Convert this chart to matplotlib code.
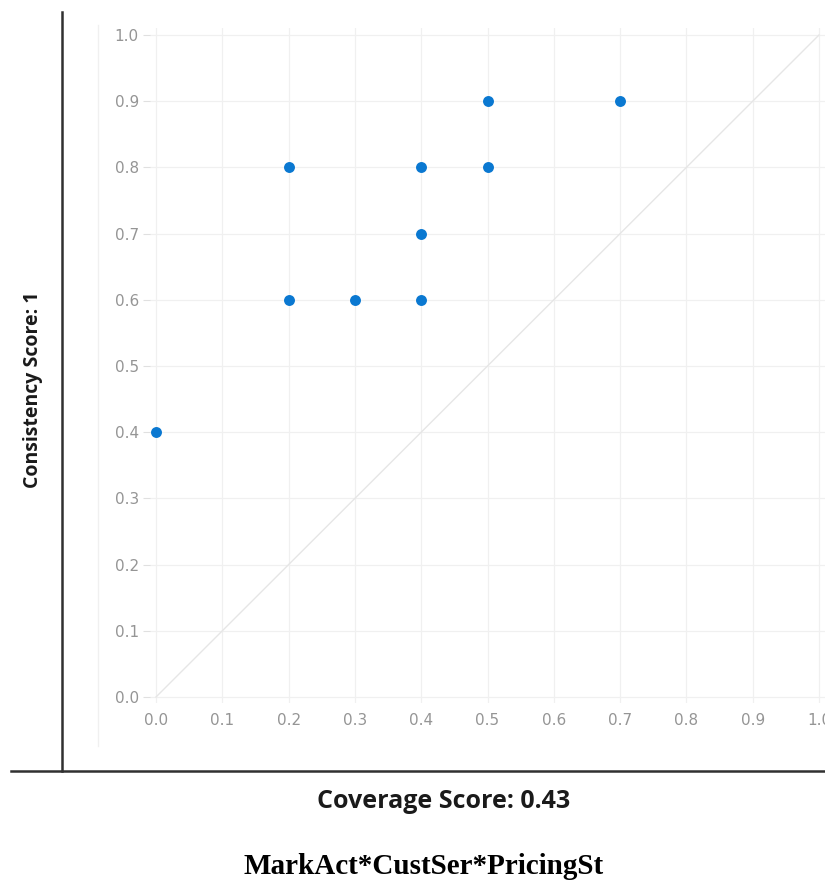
import matplotlib
matplotlib.use("Agg")
import matplotlib.pyplot as plt
from matplotlib.lines import Line2D

coverage = [0.0, 0.2, 0.2, 0.3, 0.4, 0.4, 0.4, 0.5, 0.5, 0.7]
consistency = [0.4, 0.6, 0.8, 0.6, 0.6, 0.7, 0.8, 0.8, 0.9, 0.9]
ticks = [0.0, 0.1, 0.2, 0.3, 0.4, 0.5, 0.6, 0.7, 0.8, 0.9, 1.0]
tick_labels = ["0.0", "0.1", "0.2", "0.3", "0.4", "0.5", "0.6", "0.7", "0.8", "0.9", "1.0"]
xlabel = "Coverage Score: 0.43"
ylabel = "Consistency Score: 1"
title = "MarkAct*CustSer*PricingSt"

W, H = 825, 883
fig = plt.figure(figsize=(W / 100, H / 100), dpi=100)

def fx(px):
    return px / W

def fy(py):
    return 1 - py / H

left, right, top, bottom = 150, 825, 28, 703
ax = fig.add_axes([fx(left), fy(bottom), fx(right) - fx(left), fy(top) - fy(bottom)])
# pixel mapping: x 0->156, 1->819 ; y 0->697, 1->35
sx = 819 - 156
sy = 697 - 35
ax.set_xlim((left - 156) / sx, (right - 156) / sx)
ax.set_ylim((697 - bottom) / sy, (697 - top) / sy)

for s in ax.spines.values():
    s.set_visible(False)
ax.set_xticks(ticks)
ax.set_xticklabels(tick_labels)
ax.set_yticks(ticks)
ax.set_yticklabels(tick_labels)
ax.tick_params(axis="both", colors="#e0e0e0", labelcolor="#959595", labelsize=11, length=5, width=0.8)
ax.tick_params(axis="x", length=0, pad=7)
ax.tick_params(axis="y", pad=3)
ax.grid(True, color="#f0f0f0", linewidth=0.9)
ax.set_axisbelow(True)

ax.plot([0, 1], [0, 1], color="#e6e6e6", linewidth=1.0, zorder=1)
ax.scatter(coverage, consistency, s=62, color="#0a78d1", zorder=3, linewidths=0)

# frame lines of the figure
fig.add_artist(Line2D([fx(62), fx(62)], [fy(12), fy(771)], color="#303030", linewidth=1.8))
fig.add_artist(Line2D([fx(11), fx(825)], [fy(771), fy(771)], color="#303030", linewidth=1.8))
fig.add_artist(Line2D([fx(98), fx(98)], [fy(25), fy(746)], color="#f0f0f0", linewidth=1.0))

fig.text(fx(444), fy(801), xlabel, ha="center", va="center", fontsize=18, fontweight="bold",
         family="Open Sans", color="#1a1a1a")
fig.text(fx(33), fy(390), ylabel, ha="center", va="center", rotation=90, fontsize=14,
         fontweight="bold", family="Open Sans", color="#1a1a1a")
fig.text(fx(424), fy(866), title, ha="center", va="center", fontsize=21, fontweight="bold",
         family="Liberation Serif", color="black")

fig.savefig("out.png", dpi=100)
